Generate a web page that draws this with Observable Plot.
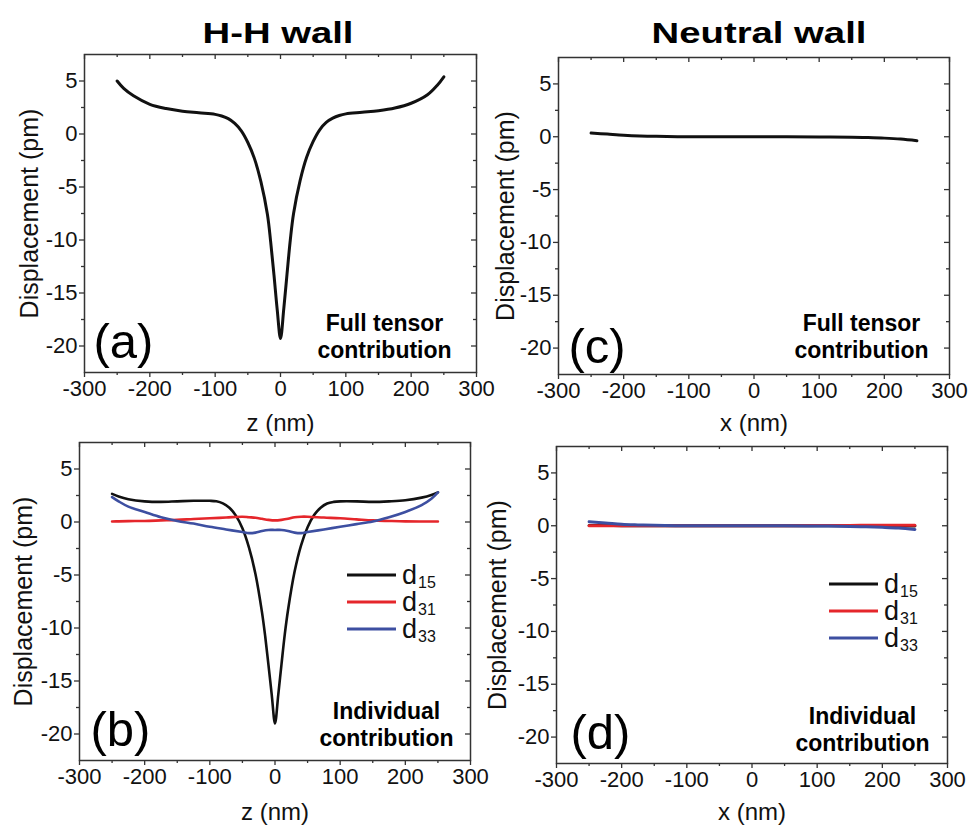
<!DOCTYPE html>
<html><head><meta charset="utf-8">
<script src="https://cdn.jsdelivr.net/npm/d3@7"></script>
<script src="https://cdn.jsdelivr.net/npm/@observablehq/plot@0.6"></script>
<style>
body{margin:0;background:#fff;}
#root{position:relative;width:970px;height:826px;overflow:hidden;font-family:"Liberation Sans",Arial,sans-serif;background:#fff;}
.panel{position:absolute;}
.title{position:absolute;font-weight:bold;font-size:29px;transform:translate(-50%,-50%) scaleX(1.32);white-space:nowrap;color:#000;line-height:1;}
.legend{position:absolute;left:0;top:0;overflow:visible;}
</style></head><body><div id="root"></div>
<script>
// ---- tick values ----
const xMajor = [-300, -200, -100, 0, 100, 200, 300];
const xMinor = [-250, -150, -50, 50, 150, 250];
const yMajor = [-20, -15, -10, -5, 0, 5];
const yMinor = [-17.5, -12.5, -7.5, -2.5, 2.5];

// ---- H-H wall ----
const zHH = [-250,-240,-225,-200,-175,-150,-125,-100,-90,-80,-70,-60,-50,-40,-30,-20,-15,-10,-5,0,5,10,15,20,30,40,50,60,70,80,90,100,125,150,175,200,225,240,250];
const hhFull = [5.0,4.3,3.6,2.8,2.4,2.15,2.0,1.85,1.7,1.45,1.0,0.3,-0.8,-2.3,-4.5,-7.6,-10.2,-13.3,-16.6,-19.3,-16.5,-13.2,-10.0,-7.5,-4.4,-2.2,-0.7,0.4,1.1,1.5,1.75,1.9,2.05,2.2,2.45,2.9,3.7,4.6,5.4];
const hhD15 = [2.65,2.4,2.15,1.95,1.9,1.95,2.0,2.0,1.95,1.75,1.35,0.6,-0.6,-2.4,-4.9,-8.5,-10.8,-13.5,-16.3,-19.0,-16.3,-13.4,-10.6,-8.3,-4.7,-2.2,-0.5,0.65,1.35,1.75,1.9,1.95,1.95,1.9,1.95,2.05,2.3,2.55,2.8];
const zS = [-250,-240,-225,-200,-175,-150,-125,-100,-75,-50,-40,-30,-20,-10,0,10,20,30,40,50,75,100,125,150,175,200,225,240,250];
const hhD31 = [0.05,0.06,0.08,0.1,0.15,0.2,0.28,0.35,0.42,0.5,0.45,0.4,0.3,0.2,0.15,0.2,0.3,0.45,0.5,0.5,0.42,0.35,0.25,0.15,0.1,0.06,0.05,0.05,0.05];
const hhD33 = [2.35,1.95,1.45,0.95,0.45,0.1,-0.15,-0.45,-0.7,-0.95,-1.05,-1.0,-0.85,-0.75,-0.75,-0.75,-0.85,-1.0,-1.05,-0.95,-0.7,-0.45,-0.2,0.05,0.45,0.95,1.6,2.2,2.8];

// ---- Neutral wall ----
const zN = [-250,-225,-200,-175,-150,-100,-50,0,50,100,150,175,200,225,250];
const nFull = [0.35,0.25,0.15,0.08,0.04,0.0,0.0,0.0,0.0,-0.02,-0.05,-0.08,-0.13,-0.22,-0.38];
const nD15 = [0.02,0.02,0.01,0.01,0,0,0,0,0,0,0,-0.01,-0.01,-0.02,-0.02];
const nD31 = [0.0,0.0,0.0,0.0,0.0,0.0,0.0,0.0,0.0,0.02,0.03,0.04,0.05,0.05,0.05];
const nD33 = [0.38,0.27,0.14,0.08,0.04,0.0,0.0,0.0,0.0,-0.02,-0.06,-0.1,-0.15,-0.22,-0.35];

// ---- legend / colours ----
const seriesSubs = ["15", "31", "33"];
const seriesColors = ["#111111", "#e5262b", "#3d4fa1"];
const titles = ["H-H wall", "Neutral wall"];

const rows = (zs, vs) => zs.map((z, i) => ({z, v: vs[i]}));
const root = document.getElementById("root");
const FONT = "Liberation Sans, Arial, sans-serif";

function panel(c) {
  const mL = c.L - c.left, mR = c.left + c.w - c.R, mT = c.T - c.top, mB = c.top + c.h - c.B;
  const fw = c.R - c.L, fh = c.B - c.T;
  const fmt = d => String(d);
  const marks = [
    Plot.frame({stroke: "#333", strokeWidth: 1.5}),
    Plot.axisX({ticks: xMajor, anchor: "bottom", tickSize: 5, tickPadding: 3, fontSize: 22, tickFormat: fmt, label: null, stroke: "#333", strokeWidth: 1.3, fill: "#111"}),
    Plot.axisX({ticks: xMinor, anchor: "bottom", tickSize: 3, tickFormat: () => "", label: null, stroke: "#333", strokeWidth: 1.3}),
    Plot.tickX(xMajor, {x: d => d, insetBottom: fh - 5, stroke: "#333", strokeWidth: 1.3}),
    Plot.tickX(xMinor, {x: d => d, insetBottom: fh - 3, stroke: "#333", strokeWidth: 1.3}),
    Plot.axisY({ticks: yMajor, anchor: "left", tickSize: 5, tickPadding: 2, fontSize: 22, tickFormat: fmt, label: null, stroke: "#333", strokeWidth: 1.3, fill: "#111"}),
    Plot.axisY({ticks: yMinor, anchor: "left", tickSize: 3, tickFormat: () => "", label: null, stroke: "#333", strokeWidth: 1.3}),
    Plot.tickY(yMajor, {y: d => d, insetLeft: fw - 5, stroke: "#333", strokeWidth: 1.3}),
    Plot.tickY(yMinor, {y: d => d, insetLeft: fw - 3, stroke: "#333", strokeWidth: 1.3}),
    ...c.lines.map(l => Plot.line(l.data, {x: "z", y: "v", stroke: l.color, strokeWidth: l.sw, curve: "catmull-rom"})),
    Plot.text([c.tag], {text: d => d, frameAnchor: "bottom-left", textAnchor: "start", lineAnchor: "bottom", dx: c.tagDx, dy: c.tagDy, fontSize: 49, fill: "#000"}),
    Plot.text([c.note], {text: d => d, frameAnchor: "bottom-right", textAnchor: "middle", lineAnchor: "bottom", dx: c.noteDx, dy: c.noteDy, fontSize: 23, fontWeight: "bold", lineHeight: 1.17, fill: "#000"}),
    Plot.text(["Displacement (pm)"], {text: d => d, frameAnchor: "left", textAnchor: "middle", lineAnchor: "middle", dx: c.yLabelDx, rotate: -90, fontSize: 25, fill: "#111"}),
    Plot.text([c.xLabel], {text: d => d, frameAnchor: "bottom", textAnchor: "middle", dy: c.xLabelDy, lineAnchor: "middle", fontSize: 24, fill: "#111"})
  ];
  const svg = Plot.plot({
    width: c.w, height: c.h,
    marginLeft: mL, marginRight: mR, marginTop: mT, marginBottom: mB,
    x: {domain: [-300, 300]},
    y: {domain: [-22.5, 7.5]},
    style: {background: "transparent", overflow: "visible", fontFamily: FONT, fontSize: "22px"},
    marks
  });
  const div = document.createElement("div");
  div.className = "panel";
  div.style.left = c.left + "px";
  div.style.top = c.top + "px";
  div.appendChild(svg);
  root.appendChild(div);
  if (c.legend) {
    const [x0, y0] = c.legend;
    const ns = "http://www.w3.org/2000/svg";
    const lg = document.createElementNS(ns, "svg");
    lg.setAttribute("class", "legend");
    lg.setAttribute("width", 970); lg.setAttribute("height", 826);
    lg.style.position = "absolute";
    seriesSubs.forEach((s, i) => {
      const y = y0 + i * 27;
      const ln = document.createElementNS(ns, "line");
      ln.setAttribute("x1", x0); ln.setAttribute("x2", x0 + 49);
      ln.setAttribute("y1", y); ln.setAttribute("y2", y);
      ln.setAttribute("stroke", seriesColors[i]); ln.setAttribute("stroke-width", 3);
      lg.appendChild(ln);
      const t = document.createElementNS(ns, "text");
      t.setAttribute("x", x0 + 55); t.setAttribute("y", y + 9);
      t.style.fontFamily = FONT; t.style.fontSize = "27px"; t.setAttribute("fill", "#111");
      t.textContent = "d";
      lg.appendChild(t);
      const sub = document.createElementNS(ns, "text");
      sub.setAttribute("x", x0 + 71); sub.setAttribute("y", y + 13);
      sub.style.fontFamily = FONT; sub.style.fontSize = "16px"; sub.setAttribute("fill", "#111");
      sub.textContent = s;
      lg.appendChild(sub);
    });
    root.appendChild(lg);
  }
}

panel({left: 0, top: 0, w: 485, h: 440, L: 84, R: 476, T: 54, B: 372,
  lines: [{data: rows(zHH, hhFull), color: seriesColors[0], sw: 3}],
  xLabel: "z (nm)", xLabelDy: 51, yLabelDx: -55,
  tag: "(a)", tagDx: 9, tagDy: -15, note: "Full tensor\ncontribution", noteDx: -92, noteDy: -15});

panel({left: 0, top: 420, w: 485, h: 406, L: 79, R: 470, T: 442, B: 760,
  lines: [
    {data: rows(zHH, hhD15), color: seriesColors[0], sw: 2.6},
    {data: rows(zS, hhD31), color: seriesColors[1], sw: 2.6},
    {data: rows(zS, hhD33), color: seriesColors[2], sw: 2.6}],
  xLabel: "z (nm)", xLabelDy: 52, yLabelDx: -56,
  tag: "(b)", tagDx: 11, tagDy: -15, note: "Individual\ncontribution", noteDx: -84, noteDy: -15,
  legend: [347, 575]});

panel({left: 485, top: 0, w: 485, h: 440, L: 558, R: 949, T: 57, B: 374,
  lines: [{data: rows(zN, nFull), color: seriesColors[0], sw: 3}],
  xLabel: "x (nm)", xLabelDy: 49, yLabelDx: -53,
  tag: "(c)", tagDx: 10, tagDy: -12, note: "Full tensor\ncontribution", noteDx: -88, noteDy: -17});

panel({left: 485, top: 420, w: 485, h: 406, L: 556, R: 947, T: 446, B: 763,
  lines: [
    {data: rows(zN, nD15), color: seriesColors[0], sw: 3},
    {data: rows(zN, nD31), color: seriesColors[1], sw: 3},
    {data: rows(zN, nD33), color: seriesColors[2], sw: 3}],
  xLabel: "x (nm)", xLabelDy: 49, yLabelDx: -59,
  tag: "(d)", tagDx: 14, tagDy: -15, note: "Individual\ncontribution", noteDx: -85, noteDy: -13,
  legend: [829, 584]});

[[titles[0], 278, 33], [titles[1], 759, 33]].forEach(([t, x, y]) => {
  const d = document.createElement("div");
  d.className = "title";
  d.style.left = x + "px"; d.style.top = y + "px";
  d.textContent = t;
  root.appendChild(d);
});
</script></body></html>
